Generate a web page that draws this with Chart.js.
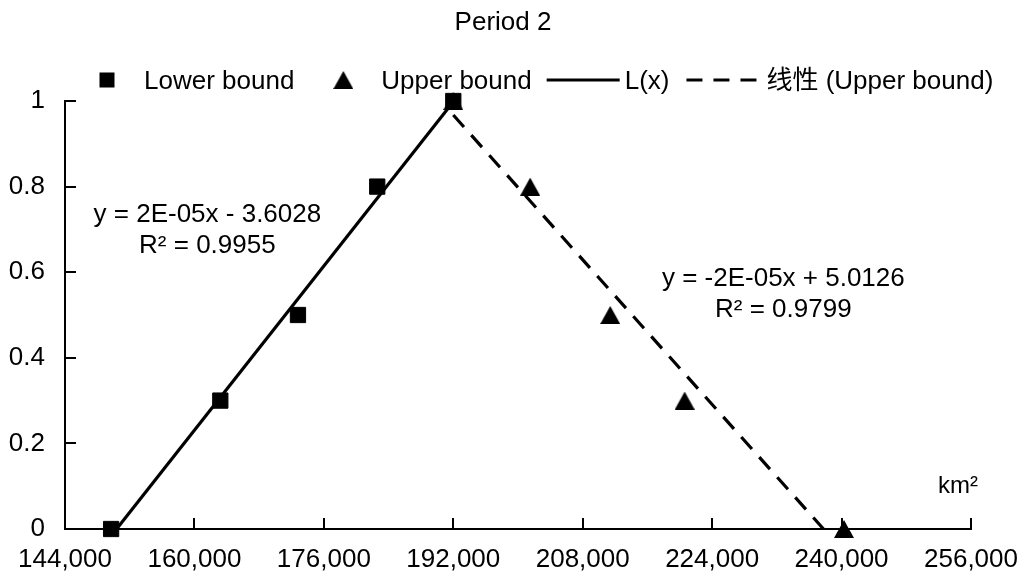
<!DOCTYPE html>
<html>
<head>
<meta charset="utf-8">
<script src="https://cdn.jsdelivr.net/npm/chart.js@4.4.1/dist/chart.umd.min.js"></script>
<style>
  html, body { margin: 0; padding: 0; background: #ffffff; }
  #wrap { width: 1029px; height: 581px; position: relative; }
</style>
</head>
<body>
<div id="wrap"><canvas id="chart" width="1029" height="581"></canvas></div>
<script>
// ---- data ----
const chartTitle = 'Period 2';
const seriesNames = ['Lower bound', 'Upper bound', 'L(x)', '线性 (Upper bound)'];
const lowerX = [149700, 163200, 172800, 182600, 192000];
const lowerY = [0, 0.3, 0.5, 0.8, 1];
const upperX = [192000, 201500, 211400, 220600, 240300];
const upperY = [1, 0.8, 0.5, 0.3, 0];
const xTicks = [144000, 160000, 176000, 192000, 208000, 224000, 240000, 256000];
const yTicks = [0, 0.2, 0.4, 0.6, 0.8, 1];
const lowerEquation = ['y = 2E-05x - 3.6028', 'R\u00B2 = 0.9955'];
const upperEquation = ['y = -2E-05x + 5.0126', 'R\u00B2 = 0.9799'];
const xUnit = 'km\u00B2';

// ---- styling ----
const FONT = '"Liberation Sans", Arial, "Noto Sans CJK SC", sans-serif';
const INK = '#000000';
const TICK_LEN = 11;
const TEXT_SIZE = 26;

// least-squares straight line through a series
function linearFit(xs, ys) {
  const n = xs.length;
  const mx = xs.reduce((a, b) => a + b, 0) / n;
  const my = ys.reduce((a, b) => a + b, 0) / n;
  let sxy = 0, sxx = 0;
  for (let i = 0; i < n; i++) {
    sxy += (xs[i] - mx) * (ys[i] - my);
    sxx += (xs[i] - mx) * (xs[i] - mx);
  }
  const slope = sxy / sxx;
  return { slope, intercept: my - slope * mx };
}
function trendPoints(xs, ys) {
  const f = linearFit(xs, ys);
  const lo = Math.min(...xs), hi = Math.max(...xs);
  return [lo, hi].map(x => ({ x, y: f.slope * x + f.intercept }));
}
const toPoints = (xs, ys) => xs.map((x, i) => ({ x, y: ys[i] }));

// filled triangle marker
function makeTriangle(w, h) {
  const c = document.createElement('canvas');
  c.width = w; c.height = h;
  const g = c.getContext('2d');
  g.fillStyle = '#000';
  g.beginPath();
  g.moveTo(w / 2, 0);
  g.lineTo(w, h);
  g.lineTo(0, h);
  g.closePath();
  g.fill();
  return c;
}
const triangle = makeTriangle(20, 18);

// title, legend, inward tick marks, equations and unit label
const decorations = {
  id: 'decorations',
  afterDraw(chart) {
    const { ctx, chartArea: area, scales: { x, y } } = chart;
    ctx.save();
    ctx.strokeStyle = INK;
    ctx.lineWidth = 2;
    ctx.beginPath();
    xTicks.forEach(v => {
      const px = Math.round(x.getPixelForValue(v));
      ctx.moveTo(px, area.bottom);
      ctx.lineTo(px, area.bottom - TICK_LEN);
    });
    yTicks.forEach(v => {
      const py = Math.round(y.getPixelForValue(v));
      ctx.moveTo(area.left, py);
      ctx.lineTo(area.left + TICK_LEN, py);
    });
    ctx.stroke();

    ctx.fillStyle = INK;
    ctx.textBaseline = 'alphabetic';

    // title
    ctx.font = `${TEXT_SIZE}px ${FONT}`;
    ctx.textAlign = 'center';
    ctx.fillText(chartTitle, 503, 30);

    // legend
    ctx.textAlign = 'left';
    const ly = 80, lb = 89;
    let cx = 107;
    ctx.fillRect(cx - 7.5, ly - 7.5, 15, 15);
    let tx = cx + 37;
    ctx.fillText(seriesNames[0], tx, lb);
    cx = tx + ctx.measureText(seriesNames[0]).width + 49;
    ctx.drawImage(triangle, cx - triangle.width / 2, ly - triangle.height / 2);
    tx = cx + 38;
    ctx.fillText(seriesNames[1], tx, lb);
    let lx = tx + ctx.measureText(seriesNames[1]).width + 15;
    ctx.lineWidth = 3;
    ctx.beginPath(); ctx.moveTo(lx, ly); ctx.lineTo(lx + 73, ly); ctx.stroke();
    tx = lx + 78;
    ctx.fillText(seriesNames[2], tx, lb);
    lx = tx + ctx.measureText(seriesNames[2]).width + 17;
    ctx.setLineDash([16, 11]);
    ctx.beginPath(); ctx.moveTo(lx, ly); ctx.lineTo(lx + 70, ly); ctx.stroke();
    ctx.setLineDash([]);
    tx = lx + 80;
    ctx.fillText(seriesNames[3], tx, lb);

    // trendline equations
    ctx.textAlign = 'center';
    const lx0 = x.getPixelForValue(161600), ly0 = y.getPixelForValue(0.717);
    ctx.fillText(lowerEquation[0], lx0, ly0);
    ctx.fillText(lowerEquation[1], lx0, ly0 + 31);
    const rx0 = x.getPixelForValue(232800), ry0 = y.getPixelForValue(0.568);
    ctx.fillText(upperEquation[0], rx0, ry0);
    ctx.fillText(upperEquation[1], rx0, ry0 + 31);

    // axis unit
    ctx.font = `24px ${FONT}`;
    ctx.textAlign = 'right';
    ctx.fillText(xUnit, 978, 493);
    ctx.restore();
  }
};

new Chart(document.getElementById('chart'), {
  type: 'scatter',
  data: {
    datasets: [
      {
        label: seriesNames[0],
        data: toPoints(lowerX, lowerY),
        pointStyle: 'rect',
        pointRadius: 10.8,
        backgroundColor: '#000',
        borderColor: '#000',
        borderWidth: 1,
        clip: false,
        order: 0
      },
      {
        label: seriesNames[1],
        data: toPoints(upperX, upperY),
        pointStyle: triangle,
        pointRadius: 10,
        backgroundColor: '#000',
        borderColor: '#000',
        clip: false,
        order: 1
      },
      {
        label: seriesNames[2],
        data: trendPoints(lowerX, lowerY),
        showLine: true,
        pointRadius: 0,
        borderColor: '#000',
        borderWidth: 3.2,
        order: 2
      },
      {
        label: seriesNames[3],
        data: trendPoints(upperX, upperY),
        showLine: true,
        pointRadius: 0,
        borderColor: '#000',
        borderWidth: 3.2,
        borderDash: [16, 11],
        order: 3
      }
    ]
  },
  options: {
    responsive: false,
    animation: false,
    events: [],
    layout: { padding: { top: 101, right: 58, left: 0, bottom: 0 } },
    plugins: { legend: { display: false }, tooltip: { enabled: false }, title: { display: false } },
    scales: {
      x: {
        type: 'linear',
        min: xTicks[0],
        max: xTicks[xTicks.length - 1],
        afterBuildTicks: s => { s.ticks = xTicks.map(v => ({ value: v })); },
        afterFit: s => { s.height = 52; s.paddingLeft = 0; s.paddingRight = 0; },
        grid: { display: false, drawTicks: false },
        border: { display: true, color: INK, width: 2 },
        ticks: {
          color: INK,
          padding: 15,
          maxRotation: 0,
          autoSkip: false,
          font: { family: FONT, size: TEXT_SIZE },
          callback: v => Number(v).toLocaleString('en-US')
        }
      },
      y: {
        type: 'linear',
        min: yTicks[0],
        max: yTicks[yTicks.length - 1],
        afterBuildTicks: s => { s.ticks = yTicks.map(v => ({ value: v })); },
        afterFit: s => { s.width = 65; s.paddingTop = 0; s.paddingBottom = 0; },
        grid: { display: false, drawTicks: false },
        border: { display: true, color: INK, width: 2 },
        ticks: {
          color: INK,
          padding: 20,
          font: { family: FONT, size: TEXT_SIZE },
          callback: v => String(Math.round(v * 10) / 10)
        }
      }
    }
  },
  plugins: [decorations]
});
</script>
</body>
</html>
